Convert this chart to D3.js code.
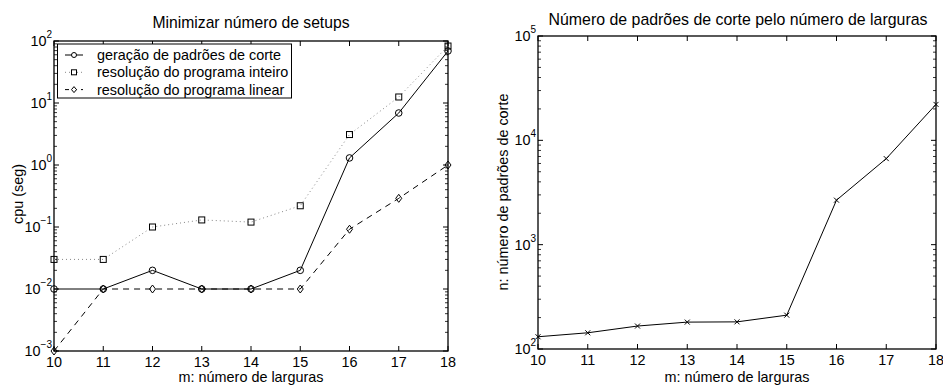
<!doctype html>
<html lang="pt">
<head>
  <meta charset="UTF-8">
  <title>setups</title>
  <script src="https://cdn.jsdelivr.net/npm/d3@7"></script>
  <style>
    body { margin: 0; background: #fff; }
    text { font-family: "Liberation Sans", Arial, sans-serif; fill: #000; }
  </style>
</head>
<body>
<svg id="chart" width="943" height="385"></svg>
<script>
  // larguras (m)
  var m = [10, 11, 12, 13, 14, 15, 16, 17, 18];

  // cpu (seg)
  var geracao = [0.01, 0.01, 0.02, 0.01, 0.01, 0.02, 1.3, 6.9, 69];
  var inteiro = [0.03, 0.03, 0.1, 0.13, 0.12, 0.22, 3.1, 12.5, 83];
  var linear  = [0.001, 0.01, 0.01, 0.01, 0.01, 0.01, 0.092, 0.29, 1.0];

  // numero de padroes de corte
  var padroes = [131, 143, 166, 181, 182, 211, 2670, 6680, 22100];

  var leftExp  = [-3, -2, -1, 0, 1, 2];
  var rightExp = [2, 3, 4, 5];

  var FS = 14.4;
  var svg = d3.select("#chart");

  function panel(box, yDomain, exps) {
    var x = d3.scaleLinear().domain([10, 18]).range([box.x0, box.x1]);
    var y = d3.scaleLog().domain(yDomain).range([box.y1, box.y0]);
    var g = svg.append("g");

    // minor log ticks, both sides inside
    var minors = [];
    for (var e = exps[0]; e < exps[exps.length - 1]; e++) {
      for (var k = 2; k <= 9; k++) minors.push(k * Math.pow(10, e));
    }
    g.selectAll(".mnl").data(minors).enter().append("line")
      .attr("x1", box.x0).attr("x2", box.x0 + 3)
      .attr("y1", function(d) { return y(d); }).attr("y2", function(d) { return y(d); })
      .attr("stroke", "#000").attr("stroke-width", 0.8);
    g.selectAll(".mnr").data(minors).enter().append("line")
      .attr("x1", box.x1).attr("x2", box.x1 - 3)
      .attr("y1", function(d) { return y(d); }).attr("y2", function(d) { return y(d); })
      .attr("stroke", "#000").attr("stroke-width", 0.8);

    // major y ticks
    g.selectAll(".myl").data(exps).enter().append("line")
      .attr("x1", box.x0).attr("x2", box.x0 + 5)
      .attr("y1", function(d) { return y(Math.pow(10, d)); }).attr("y2", function(d) { return y(Math.pow(10, d)); })
      .attr("stroke", "#000");
    g.selectAll(".myr").data(exps).enter().append("line")
      .attr("x1", box.x1).attr("x2", box.x1 - 5)
      .attr("y1", function(d) { return y(Math.pow(10, d)); }).attr("y2", function(d) { return y(Math.pow(10, d)); })
      .attr("stroke", "#000");

    // x ticks top and bottom
    g.selectAll(".mxb").data(m).enter().append("line")
      .attr("x1", function(d) { return x(d); }).attr("x2", function(d) { return x(d); })
      .attr("y1", box.y1).attr("y2", box.y1 - 5)
      .attr("stroke", "#000");
    g.selectAll(".mxt").data(m).enter().append("line")
      .attr("x1", function(d) { return x(d); }).attr("x2", function(d) { return x(d); })
      .attr("y1", box.y0).attr("y2", box.y0 + 5)
      .attr("stroke", "#000");

    g.append("rect")
      .attr("x", box.x0).attr("y", box.y0)
      .attr("width", box.x1 - box.x0).attr("height", box.y1 - box.y0)
      .attr("fill", "none").attr("stroke", "#000").attr("stroke-width", 1.3);

    // tick labels
    g.selectAll(".xl").data(m).enter().append("text")
      .attr("x", function(d) { return x(d); }).attr("y", box.y1 + 15.5)
      .attr("text-anchor", "middle").attr("font-size", FS)
      .text(function(d) { return d; });

    var yl = g.selectAll(".yl").data(exps).enter().append("text")
      .attr("x", box.x0 - 2).attr("y", function(d) { return y(Math.pow(10, d)) + 5; })
      .attr("text-anchor", "end").attr("font-size", FS);
    yl.append("tspan").text("10");
    yl.append("tspan").attr("dy", -8).attr("font-size", 10).text(function(d) { return d < 0 ? "\u2212" + (-d) : d; });

    return { x: x, y: y, g: g };
  }

  // ---------- left panel ----------
  var L = panel({ x0: 54, x1: 448, y0: 41, y1: 351 }, [1e-3, 1e2], leftExp);

  var lineL = function(vals) {
    return d3.line().x(function(d, i) { return L.x(m[i]); }).y(function(d) { return L.y(d); })(vals);
  };

  L.g.append("path").attr("d", lineL(inteiro)).attr("fill", "none")
    .attr("stroke", "#888").attr("stroke-width", 1).attr("stroke-dasharray", "1,3");
  L.g.append("path").attr("d", lineL(linear)).attr("fill", "none")
    .attr("stroke", "#000").attr("stroke-width", 1).attr("stroke-dasharray", "6,5");
  L.g.append("path").attr("d", lineL(geracao)).attr("fill", "none")
    .attr("stroke", "#000").attr("stroke-width", 1);

  function circles(vals, g, sx, sy) {
    g.selectAll(null).data(vals).enter().append("circle")
      .attr("cx", function(d, i) { return sx(m[i]); }).attr("cy", function(d) { return sy(d); })
      .attr("r", 3.3).attr("fill", "none").attr("stroke", "#000");
  }
  function squares(vals, g, sx, sy) {
    g.selectAll(null).data(vals).enter().append("rect")
      .attr("x", function(d, i) { return sx(m[i]) - 3; }).attr("y", function(d) { return sy(d) - 3; })
      .attr("width", 6).attr("height", 6).attr("fill", "none").attr("stroke", "#000");
  }
  function diamonds(vals, g, sx, sy) {
    g.selectAll(null).data(vals).enter().append("path")
      .attr("d", function(d, i) {
        var cx = sx(m[i]), cy = sy(d);
        return "M" + cx + "," + (cy - 4) + "L" + (cx + 3) + "," + cy + "L" + cx + "," + (cy + 4) + "L" + (cx - 3) + "," + cy + "Z";
      })
      .attr("fill", "none").attr("stroke", "#000");
  }
  squares(inteiro, L.g, L.x, L.y);
  diamonds(linear, L.g, L.x, L.y);
  circles(geracao, L.g, L.x, L.y);

  // legend
  var leg = L.g.append("g");
  leg.append("rect").attr("x", 57.5).attr("y", 44).attr("width", 234).attr("height", 54)
    .attr("fill", "#fff").attr("stroke", "#000").attr("stroke-width", 1);
  var legItems = [
    { label: "geração de padrões de corte", dash: null, color: "#000", mk: "c" },
    { label: "resolução do programa inteiro", dash: "1,3", color: "#888", mk: "s" },
    { label: "resolução do programa linear", dash: "4,4", color: "#000", mk: "d" }
  ];
  legItems.forEach(function(it, i) {
    var cy = 55 + i * 17.3;
    leg.append("line").attr("x1", 65).attr("x2", 83).attr("y1", cy).attr("y2", cy)
      .attr("stroke", it.color).attr("stroke-dasharray", it.dash);
    if (it.mk === "c") leg.append("circle").attr("cx", 74).attr("cy", cy).attr("r", 2.5).attr("fill", "#fff").attr("stroke", "#000");
    if (it.mk === "s") leg.append("rect").attr("x", 71.5).attr("y", cy - 2.5).attr("width", 5).attr("height", 5).attr("fill", "#fff").attr("stroke", "#000");
    if (it.mk === "d") leg.append("path").attr("d", "M74," + (cy - 3) + "L76.5," + cy + "L74," + (cy + 3) + "L71.5," + cy + "Z").attr("fill", "#fff").attr("stroke", "#000");
    leg.append("text").attr("x", 97).attr("y", cy + 5).attr("font-size", FS).text(it.label);
  });

  svg.append("text").attr("x", 251).attr("y", 28).attr("text-anchor", "middle").attr("font-size", 15.7)
    .text("Minimizar número de setups");
  svg.append("text").attr("x", 251).attr("y", 382).attr("text-anchor", "middle").attr("font-size", FS)
    .text("m: número de larguras");
  svg.append("text").attr("transform", "translate(23,194) rotate(-90)").attr("text-anchor", "middle").attr("font-size", FS)
    .text("cpu (seg)");

  // ---------- right panel ----------
  var R = panel({ x0: 538, x1: 936, y0: 36, y1: 349 }, [1e2, 1e5], rightExp);

  R.g.append("path")
    .attr("d", d3.line().x(function(d, i) { return R.x(m[i]); }).y(function(d) { return R.y(d); })(padroes))
    .attr("fill", "none").attr("stroke", "#000").attr("stroke-width", 1);
  R.g.selectAll(null).data(padroes).enter().append("path")
    .attr("d", function(d, i) {
      var cx = R.x(m[i]), cy = R.y(d);
      return "M" + (cx - 2.5) + "," + (cy - 2.5) + "L" + (cx + 2.5) + "," + (cy + 2.5) +
             "M" + (cx - 2.5) + "," + (cy + 2.5) + "L" + (cx + 2.5) + "," + (cy - 2.5);
    })
    .attr("stroke", "#000").attr("fill", "none");

  svg.append("text").attr("x", 738).attr("y", 25).attr("text-anchor", "middle").attr("font-size", 15.9)
    .text("Número de padrões de corte pelo número de larguras");
  svg.append("text").attr("x", 737).attr("y", 382).attr("text-anchor", "middle").attr("font-size", FS)
    .text("m: número de larguras");
  svg.append("text").attr("transform", "translate(508,192) rotate(-90)").attr("text-anchor", "middle").attr("font-size", FS)
    .text("n: número de padrões de corte");
</script>
</body>
</html>
